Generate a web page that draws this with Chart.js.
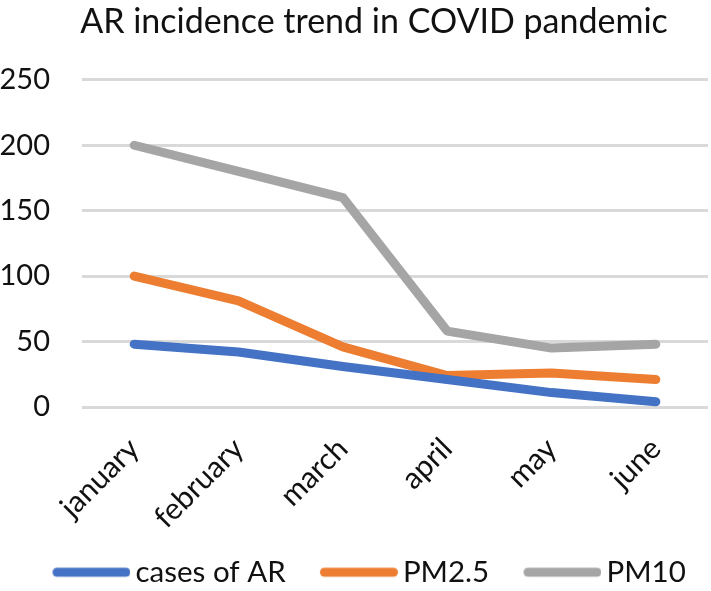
<!DOCTYPE html>
<html>
<head>
<meta charset="utf-8">
<script src="https://cdn.jsdelivr.net/npm/chart.js@4/dist/chart.umd.min.js"></script>
<style>
  html, body { margin: 0; padding: 0; background: #fff; }
  #wrap { width: 711px; height: 591px; position: relative; }
</style>
</head>
<body>
<div id="wrap"><canvas id="c"></canvas></div>
<script>
const titleText = 'AR incidence trend in COVID pandemic';
const categories = ['january', 'february', 'march', 'april', 'may', 'june'];
const casesAR = [48, 42, 31, 21, 11, 4];
const pm25 = [100, 81, 46, 24, 26, 21];
const pm10 = [200, 180, 160, 58, 45, 48];
const yTicks = [0, 50, 100, 150, 200, 250];
const seriesColors = ['#4472C4', '#ED7D31', '#A5A5A5'];

const FONT = 'Lato, "Open Sans", sans-serif';
const TEXT = '#111111';

// legend geometry
const LEG_FS = 29.5, LEG_PAD = 4, LEG_BOX = 98.5, LEG_LINE = 78, LEG_GAP = 5, LEG_LW = 9;

function legendSwatch(color) {
  const half = LEG_FS / 2;
  const lineRightRel = LEG_BOX + half - LEG_GAP;           // from item x
  const lineLeftRel = lineRightRel - LEG_LINE;
  const center = LEG_BOX / 2;
  const w = Math.ceil(2 * (lineRightRel - center));
  const h = 12;
  const cv = document.createElement('canvas');
  cv.width = w; cv.height = h;
  const g = cv.getContext('2d');
  g.strokeStyle = color; g.lineWidth = LEG_LW; g.lineCap = 'round';
  const x0 = w / 2 + (lineLeftRel - center) + LEG_LW / 2;
  const x1 = w / 2 + (lineRightRel - center) - LEG_LW / 2;
  g.beginPath(); g.moveTo(x0, h / 2); g.lineTo(x1, h / 2); g.stroke();
  return cv;
}
const swatches = seriesColors.map(legendSwatch);

const shiftBoxes = {
  id: 'shiftBoxes',
  afterLayout(chart) {
    const t = chart.titleBlock;
    if (t) { t.left += 40; }
    const l = chart.legend;
    if (l) { l.top += 6; l.bottom += 6; }
  }
};

function ds(label, data, color) {
  return {
    label, data,
    borderColor: color, backgroundColor: color,
    borderWidth: 9, pointRadius: 0, pointHoverRadius: 0,
    tension: 0, borderCapStyle: 'round', borderJoinStyle: 'round',
    fill: false
  };
}

new Chart(document.getElementById('c'), {
  type: 'line',
  data: {
    labels: categories,
    datasets: [
      ds('cases of AR', casesAR, seriesColors[0]),
      ds('PM2.5', pm25, seriesColors[1]),
      ds('PM10', pm10, seriesColors[2])
    ]
  },
  options: {
    responsive: true,
    maintainAspectRatio: false,
    animation: false,
    layout: { padding: { left: 0, right: 3, top: 0, bottom: 0 } },
    plugins: {
      title: {
        display: true, text: titleText, color: TEXT,
        font: { family: FONT, size: 34, weight: 'normal' },
        padding: { top: 2, bottom: 37 }
      },
      legend: {
        position: 'bottom',
        labels: {
          color: TEXT,
          font: { family: FONT, size: LEG_FS },
          usePointStyle: true, pointStyleWidth: LEG_BOX,
          boxHeight: LEG_FS, padding: LEG_PAD,
          generateLabels(chart) {
            const items = Chart.defaults.plugins.legend.labels.generateLabels(chart);
            items.forEach((it, i) => { it.pointStyle = swatches[i]; });
            return items;
          }
        }
      },
      tooltip: { enabled: false }
    },
    scales: {
      x: {
        offset: true,
        grid: { display: false, drawTicks: false },
        border: { display: false },
        ticks: {
          color: TEXT, font: { family: FONT, size: 30 },
          minRotation: 45, maxRotation: 45, padding: 24, autoSkip: false
        },
        afterFit(s) { s.height = 140.5; }
      },
      y: {
        min: 0, max: 250,
        afterBuildTicks(s) { s.ticks = yTicks.map(v => ({ value: v })); },
        grid: { color: '#D9D9D9', lineWidth: 3, drawTicks: false },
        border: { display: false },
        ticks: { color: TEXT, font: { family: FONT, size: 29 }, padding: 32 },
        afterFit(s) { s.width = 82; }
      }
    }
  },
  plugins: [shiftBoxes]
});
</script>
</body>
</html>
